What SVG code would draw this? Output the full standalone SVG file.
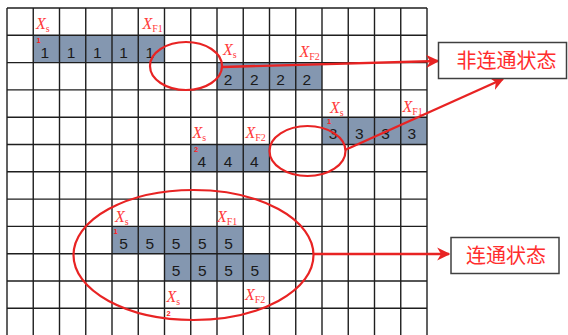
<svg xmlns="http://www.w3.org/2000/svg" width="568" height="335" viewBox="0 0 568 335">
<defs>
<style>
.cell{fill:#8497b0}
.grid line{stroke:#1e1e1e;stroke-width:1.4}
.num{font-family:"Liberation Sans",Arial,sans-serif;font-size:15.5px;fill:#1a1a1a;text-anchor:middle}
.lbl{font-family:"Liberation Serif","Times New Roman",serif;font-size:16px;fill:#ff3b3b}
.lbl .i{font-style:italic}
.lbl .sub{font-size:10px}
.tiny{font-family:"Liberation Sans",Arial,sans-serif;font-size:7.5px;font-weight:bold;fill:#ff2020}
.ring{fill:none;stroke:#e82323;stroke-width:2.2}
.conn{stroke:#e82323;stroke-width:2.4;fill:none}
.box{fill:#fff;stroke:#404040;stroke-width:1.5}
.boxtxt{font-family:"Noto Sans CJK SC","Noto Sans",sans-serif;font-size:20px;fill:#ff2d2d;text-anchor:middle}
</style>
<marker id="ah" viewBox="0 0 10 10" refX="9" refY="5" markerWidth="5.5" markerHeight="5.5" orient="auto" markerUnits="strokeWidth">
<path d="M0,0 L10,5 L0,10 L3,5 Z" fill="#e82323"/>
</marker>
</defs>
<rect width="568" height="335" fill="#fff"/>
<g id="cells">
<rect class="cell" x="33.25" y="35.3" width="131.25" height="27.3"/>
<rect class="cell" x="217" y="62.6" width="105" height="27.3"/>
<rect class="cell" x="322" y="117.2" width="105" height="27.3"/>
<rect class="cell" x="190.75" y="144.5" width="78.75" height="27.3"/>
<rect class="cell" x="112" y="226.4" width="131.25" height="27.3"/>
<rect class="cell" x="164.5" y="253.7" width="105" height="27.3"/>
</g>
<g id="grid" class="grid">
<line x1="7" y1="8" x2="7" y2="336"/>
<line x1="33.25" y1="8" x2="33.25" y2="336"/>
<line x1="59.5" y1="8" x2="59.5" y2="336"/>
<line x1="85.75" y1="8" x2="85.75" y2="336"/>
<line x1="112" y1="8" x2="112" y2="336"/>
<line x1="138.25" y1="8" x2="138.25" y2="336"/>
<line x1="164.5" y1="8" x2="164.5" y2="336"/>
<line x1="190.75" y1="8" x2="190.75" y2="336"/>
<line x1="217" y1="8" x2="217" y2="336"/>
<line x1="243.25" y1="8" x2="243.25" y2="336"/>
<line x1="269.5" y1="8" x2="269.5" y2="336"/>
<line x1="295.75" y1="8" x2="295.75" y2="336"/>
<line x1="322" y1="8" x2="322" y2="336"/>
<line x1="348.25" y1="8" x2="348.25" y2="336"/>
<line x1="374.5" y1="8" x2="374.5" y2="336"/>
<line x1="400.75" y1="8" x2="400.75" y2="336"/>
<line x1="427" y1="8" x2="427" y2="336"/>
<line x1="7" y1="8" x2="427" y2="8"/>
<line x1="7" y1="35.3" x2="427" y2="35.3"/>
<line x1="7" y1="62.6" x2="427" y2="62.6"/>
<line x1="7" y1="89.9" x2="427" y2="89.9"/>
<line x1="7" y1="117.2" x2="427" y2="117.2"/>
<line x1="7" y1="144.5" x2="427" y2="144.5"/>
<line x1="7" y1="171.8" x2="427" y2="171.8"/>
<line x1="7" y1="199.1" x2="427" y2="199.1"/>
<line x1="7" y1="226.4" x2="427" y2="226.4"/>
<line x1="7" y1="253.7" x2="427" y2="253.7"/>
<line x1="7" y1="281" x2="427" y2="281"/>
<line x1="7" y1="308.3" x2="427" y2="308.3"/>
</g>
<g id="numbers">
<text class="num" x="44.75" y="57.5">1</text>
<text class="num" x="71" y="57.5">1</text>
<text class="num" x="97.25" y="57.5">1</text>
<text class="num" x="123.5" y="57.5">1</text>
<text class="num" x="149.75" y="57.5">1</text>
<text class="num" x="228" y="84.5">2</text>
<text class="num" x="254.25" y="84.5">2</text>
<text class="num" x="280.5" y="84.5">2</text>
<text class="num" x="306.75" y="84.5">2</text>
<text class="num" x="333" y="139.2">3</text>
<text class="num" x="359.25" y="139.2">3</text>
<text class="num" x="385.5" y="139.2">3</text>
<text class="num" x="411.75" y="139.2">3</text>
<text class="num" x="201.75" y="166.5">4</text>
<text class="num" x="228" y="166.5">4</text>
<text class="num" x="254.25" y="166.5">4</text>
<text class="num" x="123.5" y="248.5">5</text>
<text class="num" x="149.75" y="248.5">5</text>
<text class="num" x="176" y="248.5">5</text>
<text class="num" x="202.25" y="248.5">5</text>
<text class="num" x="228.5" y="248.5">5</text>
<text class="num" x="176" y="275.8">5</text>
<text class="num" x="202.25" y="275.8">5</text>
<text class="num" x="228.5" y="275.8">5</text>
<text class="num" x="254.75" y="275.8">5</text>
</g>
<g id="labels">
<text class="lbl" x="36" y="29"><tspan class="i">X</tspan><tspan class="sub" dy="3">s</tspan></text>
<text class="lbl" x="142.5" y="28.5"><tspan class="i">X</tspan><tspan class="sub" dy="3">F1</tspan></text>
<text class="lbl" x="223" y="55"><tspan class="i">X</tspan><tspan class="sub" dy="3">s</tspan></text>
<text class="lbl" x="299.5" y="56.5"><tspan class="i">X</tspan><tspan class="sub" dy="3">F2</tspan></text>
<text class="lbl" x="330" y="113"><tspan class="i">X</tspan><tspan class="sub" dy="3">s</tspan></text>
<text class="lbl" x="402.5" y="111.5"><tspan class="i">X</tspan><tspan class="sub" dy="3">F1</tspan></text>
<text class="lbl" x="192.5" y="138"><tspan class="i">X</tspan><tspan class="sub" dy="3">s</tspan></text>
<text class="lbl" x="245.5" y="138"><tspan class="i">X</tspan><tspan class="sub" dy="3">F2</tspan></text>
<text class="lbl" x="115" y="221.5"><tspan class="i">X</tspan><tspan class="sub" dy="3">s</tspan></text>
<text class="lbl" x="217" y="221.5"><tspan class="i">X</tspan><tspan class="sub" dy="3">F1</tspan></text>
<text class="lbl" x="166.5" y="301.5"><tspan class="i">X</tspan><tspan class="sub" dy="3">s</tspan></text>
<text class="lbl" x="245" y="299.5"><tspan class="i">X</tspan><tspan class="sub" dy="3">F2</tspan></text>
<text class="tiny" x="36.5" y="42.5">1</text>
<text class="tiny" x="327" y="124">1</text>
<text class="tiny" x="194" y="151.5">2</text>
<text class="tiny" x="113.5" y="234">1</text>
<text class="tiny" x="166.5" y="316">2</text>
</g>
<g id="rings">
<ellipse id="ring1" class="ring" cx="186" cy="66" rx="36" ry="24"/>
<ellipse id="ring2" class="ring" cx="307.5" cy="151" rx="38" ry="25"/>
<ellipse id="ring3" class="ring" cx="193.5" cy="255" rx="120" ry="65"/>
</g>
<g id="connectors">
<line class="conn" x1="222" y1="67" x2="438" y2="61" marker-end="url(#ah)"/>
<line class="conn" x1="345" y1="150" x2="503" y2="79" marker-end="url(#ah)"/>
<line class="conn" x1="313" y1="254" x2="449" y2="254" marker-end="url(#ah)"/>
</g>
<g id="box-disconnected">
<rect class="box" x="438.5" y="42.5" width="128" height="36"/>
<text class="boxtxt" x="506.5" y="67.5">非连通状态</text>
</g>
<g id="box-connected">
<rect class="box" x="451" y="237.5" width="108" height="36"/>
<text class="boxtxt" x="506" y="263">连通状态</text>
</g>
</svg>
